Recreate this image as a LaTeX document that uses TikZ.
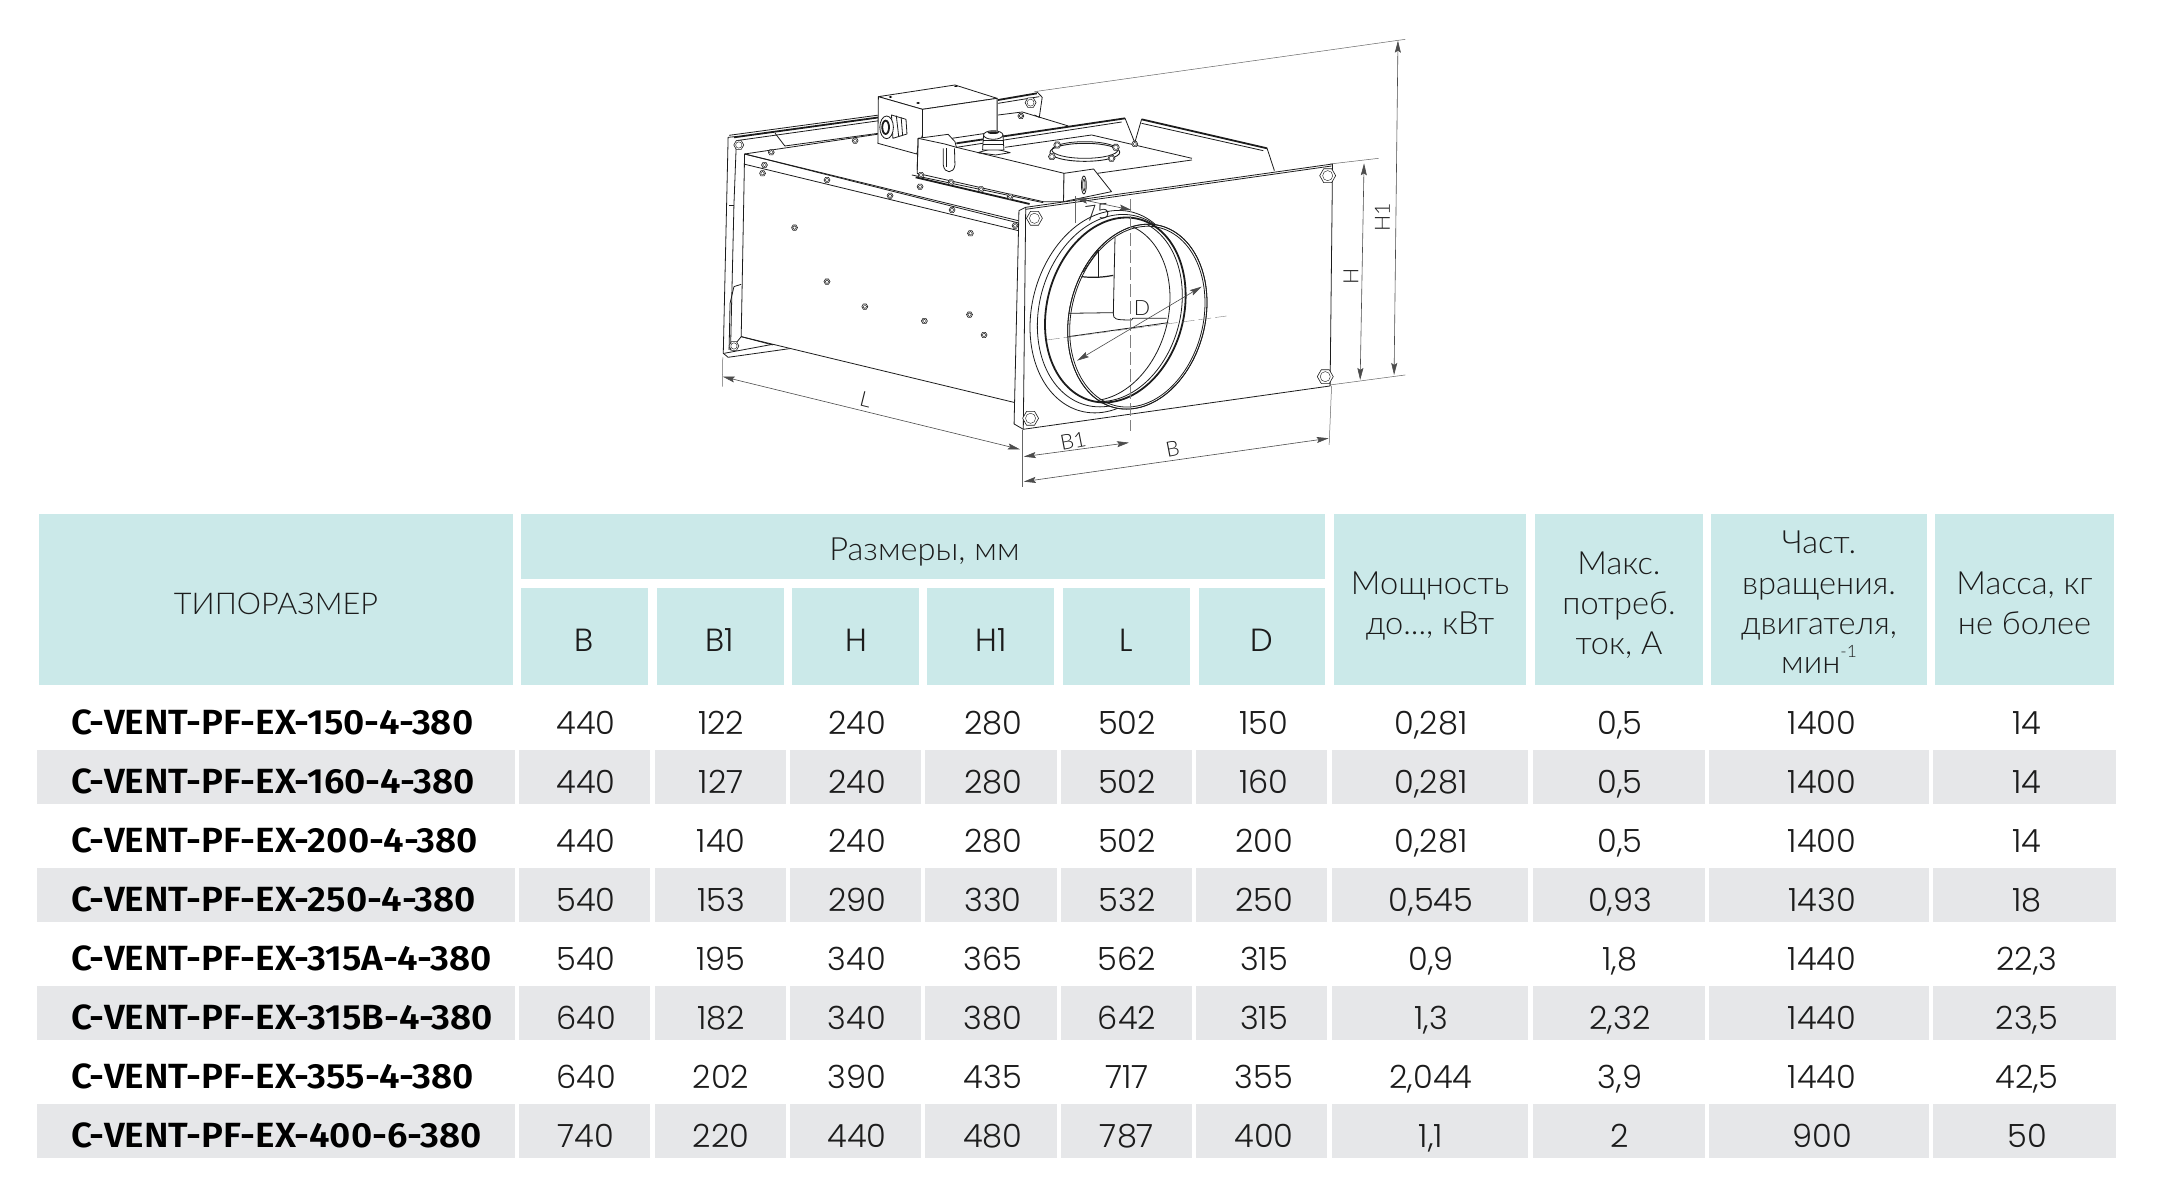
\documentclass[tikz,border=0pt]{standalone}
\usepackage{fontspec}
\usetikzlibrary{arrows.meta,calc}
\newfontfamily\cyrf[FakeStretch=1.02]{Lato Light}
\newfontfamily\numf{Poppins Light}
\newfontfamily\labf[FakeStretch=1.05]{Fira Sans SemiBold}
\definecolor{hdcol}{HTML}{CBE9E9}
\definecolor{grcol}{HTML}{E6E7E9}
\definecolor{ink}{HTML}{1C1C1C}
\tikzset{
  hbox/.style={fill=hdcol,draw=none},
  gbox/.style={fill=grcol,draw=none},
  hd/.style={inner sep=0pt,anchor=base,text=ink,font=\cyrf\fontsize{32}{38}\selectfont},
  hn/.style={inner sep=0pt,anchor=base,text=ink,font=\numf\fontsize{32}{38}\selectfont},
  val/.style={inner sep=0pt,anchor=base,text=ink,font=\numf\fontsize{32}{38}\selectfont},
  lab/.style={inner sep=0pt,anchor=base west,text=black,font=\labf\fontsize{35}{40}\selectfont},
  ln/.style={line width=.8pt,draw=ink,line join=round},
  rail/.style={line width=1.8pt,draw=ink},
  dimm/.style={line width=.6pt,draw=black!70,{Stealth[length=12pt,width=6pt,inset=2pt]}-{Stealth[length=12pt,width=6pt,inset=2pt]}},
  extl/.style={line width=.5pt,draw=black!60},
  ctr/.style={line width=.4pt,draw=black!50,dash pattern=on 13pt off 4pt},
  dl/.style={inner sep=0pt,text=ink,font=\cyrf\fontsize{21}{24}\selectfont},
  persp/.style={yslant=.205},
}
\newcommand\hexbolt[3]{%
  \draw[ln,fill=white,line width=.6pt] ({#1+2.06*#3},#2) -- ({#1+1.03*#3},{#2+2.6*#3}) -- ({#1-1.03*#3},{#2+2.6*#3}) -- ({#1-2.06*#3},#2) -- ({#1-1.03*#3},{#2-2.6*#3}) -- ({#1+1.03*#3},{#2-2.6*#3}) -- cycle;
  \draw[ln,line width=.4pt] (#1,#2) circle[x radius={1.3*#3},y radius={1.9*#3}];}
\begin{document}
\begin{tikzpicture}[x=1pt,y=-1pt]
\useasboundingbox[fill=white] (0,0) rectangle (2158,1186);
% ---------- header boxes
\fill[hbox] (38.7,513.5) rectangle (512.7,685);
\fill[hbox] (521,513.5) rectangle (1325,579);
\foreach \a/\b in {521/648,656.6/783.6,792/919,927/1054.4,1063/1190,1198.5/1325}
  \fill[hbox] (\a,588) rectangle (\b,685);
\foreach \a/\b in {1334/1526,1534.5/1703,1711/1927,1935/2114}
  \fill[hbox] (\a,513.5) rectangle (\b,685);
% ---------- grey rows
\foreach \y in {750,868,986,1104}
  \foreach \a/\b in {36.5/515,519/650,654.5/785.7,790/921,925/1056.5,1060.7/1192,1196/1327.4,1332/1528,1532.5/1705,1709/1929,1933/2116}
    \fill[gbox] (\a,\y) rectangle (\b,\y+54.3);
% ---------- header text
\node[hd,font=\cyrf\fontsize{30}{38}\selectfont] (hType) at (276,614) {ТИПОРАЗМЕР};
\node[hd] (hSize) at (924.5,560) {Размеры, мм};
\node[hn] (hB)  at (584.5,651) {B};
\node[hn] (hB1) at (720,651) {B1};
\node[hn] (hH)  at (856,651) {H};
\node[hn] (hH1) at (991,651) {H1};
\node[hn] (hL)  at (1126.5,651) {L};
\node[hn] (hD)  at (1262,651) {D};
\node[hd] (hPa) at (1430,594) {Мощность};
\node[hd] (hPb) at (1430,634) {до..., кВт};
\node[hd] (hIa) at (1619,574) {Макс.};
\node[hd] (hIb) at (1619,614) {потреб.};
\node[hd] (hIc) at (1619,654) {ток, А};
\node[hd] (hNa) at (1819,553) {Част.};
\node[hd] (hNb) at (1819,594) {вращения.};
\node[hd] (hNc) at (1819,634) {двигателя,};
\node[hd] (hNd) at (1819,673) {мин\raisebox{.5em}{\fontsize{17}{17}\selectfont -1}};
\node[hd] (hMa) at (2024.5,594) {Масса, кг};
\node[hd] (hMb) at (2024.5,634) {не более};
% ---------- data
\foreach \n/\yy/\lbl/\va/\vb/\vc/\vd/\ve/\vf/\vg/\vh/\vi/\vj in {
 1/734/C-VENT-PF-EX-150-4-380/440/122/240/280/502/150/{0,281}/{0,5}/1400/14,
 2/793/C-VENT-PF-EX-160-4-380/440/127/240/280/502/160/{0,281}/{0,5}/1400/14,
 3/852/C-VENT-PF-EX-200-4-380/440/140/240/280/502/200/{0,281}/{0,5}/1400/14,
 4/911/C-VENT-PF-EX-250-4-380/540/153/290/330/532/250/{0,545}/{0,93}/1430/18,
 5/970/C-VENT-PF-EX-315A-4-380/540/195/340/365/562/315/{0,9}/{1,8}/1440/{22,3},
 6/1029/C-VENT-PF-EX-315B-4-380/640/182/340/380/642/315/{1,3}/{2,32}/1440/{23,5},
 7/1088/C-VENT-PF-EX-355-4-380/640/202/390/435/717/355/{2,044}/{3,9}/1440/{42,5},
 8/1147/C-VENT-PF-EX-400-6-380/740/220/440/480/787/400/{1,1}/2/900/50}{
  \node[lab] (r\n) at (71,\yy) {\lbl};
  \node[val] (r\n-b)  at (586,\yy) {\va};
  \node[val] (r\n-b1) at (721,\yy) {\vb};
  \node[val] (r\n-h)  at (857,\yy) {\vc};
  \node[val] (r\n-h1) at (993,\yy) {\vd};
  \node[val] (r\n-l)  at (1127,\yy) {\ve};
  \node[val] (r\n-d)  at (1264,\yy) {\vf};
  \node[val] (r\n-p)  at (1431,\yy) {\vg};
  \node[val] (r\n-i)  at (1620,\yy) {\vh};
  \node[val] (r\n-n)  at (1822,\yy) {\vi};
  \node[val] (r\n-m)  at (2027,\yy) {\vj};
}
% ---------- drawing, in the stretched coordinates of the view
\begin{scope}[shift={(700,20)},x=0.4847pt,y=-0.3333pt]
% rear flange
\draw[ln] (60,346)--(370,285);
\draw[rail] (70,352)--(370,292);
\draw[ln] (75,362)--(370,302);
\draw[ln] (72,350)--(58,352)--(48,1000)--(58,1012)--(190,985);
\draw[ln] (50,1000)--(150,973);
\draw[ln] (75,365)--(70,555)--(63,990)--(85,950);
\draw[ln] (60,555)--(70,555);
\draw[ln] (70,800)--(85,793); \draw[ln] (70,800)--(62,850)--(60,990);
\draw[ln] (155,340)--(175,378)--(368,340);
\hexbolt{80}{375}{5}
\hexbolt{70}{978}{5}
% right end of rear flange
\draw[rail] (615,240)--(695,220);
\draw[ln] (615,250)--(700,230);
\draw[ln] (695,215)--(706,232)--(700,292)--(690,285);
\draw[ln] (615,285)--(665,276)--(760,318);
\hexbolt{682}{248}{5.5}
\hexbolt{662}{288}{3}
% duct side panel
\draw[ln,fill=white] (92,402)--(85,950)--(650,1148)--(660,610)--cycle;
\draw[ln] (92,402)--(370,342);
\draw[ln] (92,402)--(665,605);
\draw[ln] (90,432)--(657,632);
\draw[ln] (85,950)--(150,975);
\foreach \p/\q in {147/397,320/362,133/435,129/460,262/480,392/527,520/570,650/617,454/500,195/623,558/640,262/785,340/860,463/903,556/884,586/945}
  \hexbolt{\p}{\q}{3};
% junction box
\draw[ln,fill=white] (368,230)--(526,195)--(613,235)--(459,268)--cycle;
\draw[ln,fill=white] (368,230)--(367,370)--(447,402)--(459,345)--(459,268)--cycle;
\draw[ln,fill=white] (459,268)--(613,235)--(613,335)--(459,368)--cycle;
\fill[black] (393,231) circle[x radius=4,y radius=3];
\fill[black] (450,249) circle[x radius=4,y radius=3];
\fill[black] (528,199) circle[x radius=4,y radius=2];
% left gland
\draw[ln,fill=white] (395,285)--(425,298)--(427,342)--(398,355)--cycle;
\draw[ln] (405,287)--(410,350); \draw[ln] (415,292)--(418,346);
\draw[ln,fill=white] (385,322) circle[x radius=14,y radius=34];
\draw[rail] (383,322) circle[x radius=7,y radius=20];
% motor housing
\draw[ln,fill=white] (450,355)--(512,343)--(526,365)--(529,382)--(751,460)--(750,545)--(708,545)--(448,460)--cycle;
\draw[rail] (529,370)--(877,295);
\draw[ln] (529,382)--(870,306);
\draw[ln] (450,355)--(505,372)--(529,382);
\draw[ln] (448,450)--(450,355);
\draw[ln,fill=white] (502,385) -- (502,435) .. controls (504,462) and (524,462) .. (526,435) -- (525,385);
\draw[ln] (509,385)--(509,440);
\draw[ln] (629,382)--(808,345)--(1015,415);
\draw[ln,fill=white] (751,460)--(812,447)--(849,515)--(750,545)--cycle;
\draw[ln] (820,460)--(1015,420);
\draw[ln] (877,295)--(897,368)--(911,298);
\draw[rail] (911,298)--(1170,385);
\draw[ln] (911,310)--(1162,392);
\draw[ln] (1170,385)--(1185,452);
\draw[ln] (437,465)--(708,548);
\draw[rail] (445,472)--(680,552);
\foreach \p/\q in {456/465,518/487,580/508,640/530}
  \hexbolt{\p}{\q}{3};
\hexbolt{897}{372}{3}
\draw[ln,line width=.9pt] (794,397) circle[x radius=72,y radius=27];
\draw[ln] (794,390) circle[x radius=68,y radius=25];
\foreach \p/\q in {737/375,858/382,849/415,726/410}
  \hexbolt{\p}{\q}{3.5};
% top gland
\draw[ln,fill=white] (573,398)--(605,385)--(640,398)--(610,405)--cycle;
\draw[ln,fill=white] (585,345)--(583,390)--(627,390)--(625,345)--cycle;
\draw[ln] (583,360)--(627,360); \draw[ln] (583,372)--(627,372);
\draw[ln,fill=white] (605,345) circle[x radius=20,y radius=13];
\fill[ink] (605,338) circle[x radius=12,y radius=4];
% slot
\draw[ln] (792,495) circle[x radius=5,y radius=27];
\draw[ln] (792,495) circle[x radius=2.5,y radius=18];
% front plate
\draw[ln,fill=white] (658,572)--(672,562)--(1305,432)--(1300,1098)--(667,1228)--(648,1212)--cycle;
\draw[ln] (672,562)--(667,1228);
\draw[ln] (672,568)--(1303,438);
\foreach \p/\q in {690/595,1295/467,1290/1070,682/1195}
  \hexbolt{\p}{\q}{8};
\end{scope}
% ---------- collar, in a uniform scale
\begin{scope}[shift={(1000,160)},x=.3333pt,y=-.3333pt]
\draw[ln,fill=white] (320,455) circle[x radius=230,y radius=300,persp];
\draw[ln] (334,452) circle[x radius=222,y radius=285,persp];
\draw[ln,line width=1.8pt] (346,450) circle[x radius=211,y radius=274,persp];
\draw[ln,fill=white] (412,470) circle[x radius=209,y radius=274,persp];
\begin{scope}
\clip (412,470) circle[x radius=209,y radius=274,persp];
\draw[ln,line width=1.8pt] (346,450) circle[x radius=211,y radius=274,persp];
\draw[ln] (336,450) circle[x radius=211,y radius=271,persp];
\draw[ln] (305,455) circle[x radius=205,y radius=264,persp];
% interior
\draw[ln] (345,232)--(340,460) .. controls (340,478) and (345,480) .. (395,480)--(398,475)--(500,475);
\draw[ln] (205,460)--(340,458);
\draw[ln] (205,530)--(505,488);
\draw[ln] (295,270)--(295,350);
\draw[ln,line width=1.2pt] (245,350) .. controls (280,354) and (310,352) .. (340,346);
\draw[ln] (250,335)--(295,270);
\end{scope}
\draw[ln] (412,470) circle[x radius=209,y radius=274,persp];
\draw[ln] (412,470) circle[x radius=203,y radius=268,persp];
\coordinate (ctrTop) at (392,118);
\coordinate (ctrBot) at (392,812);
\coordinate (ctrL) at (140,540);
\coordinate (ctrR) at (680,468);
\draw[ctr] (ctrTop)--(ctrBot);
\draw[ctr] (ctrL)--(ctrR);
\end{scope}
% ---------- dimensions
\begin{scope}[shift={(700,20)},x=0.4847pt,y=-0.3333pt]
\coordinate (Lx0) at (47,1012); \coordinate (Lx1) at (46,1100);
\coordinate (Bx0) at (665,1230); \coordinate (Bx1) at (665,1400);
\coordinate (Bx2) at (1303,1098); \coordinate (Bx3) at (1298,1275);
\coordinate (Ha) at (1300,432); \coordinate (Hb) at (1400,415);
\coordinate (Hc) at (1300,1095); \coordinate (Hd) at (1455,1065);
\coordinate (HIa) at (690,215); \coordinate (HIb) at (1455,58);
\coordinate (Sx0) at (775,528); \coordinate (Sx1) at (775,610);
\coordinate (La) at (47,1070); \coordinate (Lb) at (660,1288);
\coordinate (Ba) at (668,1310); \coordinate (Bb) at (885,1268);
\coordinate (BBa) at (668,1385); \coordinate (BBb) at (1297,1255);
\coordinate (Ya) at (1370,430); \coordinate (Yb) at (1362,1080);
\coordinate (Za) at (1440,62); \coordinate (Zb) at (1432,1065);
\coordinate (Sa) at (775,535); \coordinate (Sb) at (890,570);
\coordinate (Da) at (778,1022); \coordinate (Db) at (1035,800);
\foreach \s/\t in {Lx0/Lx1,Bx0/Bx1,Bx2/Bx3,Ha/Hb,Hc/Hd,HIa/HIb,Sx0/Sx1}
  \draw[extl] (\s)--(\t);
\foreach \s/\t in {La/Lb,Ba/Bb,BBa/BBb,Ya/Yb,Za/Zb,Sa/Sb,Da/Db}
  \draw[dimm] (\s)--(\t);
\node[dl,rotate=-14] (tL) at (342,1140) {L};
\node[dl,rotate=11] (tB1) at (770,1263) {B1};
\node[dl,rotate=11] (tB) at (975,1288) {B};
\node[dl,rotate=90] (tH) at (1343,768) {H};
\node[dl,rotate=90] (tH1) at (1408,592) {H1};
\node[dl,rotate=8] (t75) at (820,578) {75};
\node[dl] (tD) at (912,865) {D};
\end{scope}
\end{tikzpicture}
\end{document}
